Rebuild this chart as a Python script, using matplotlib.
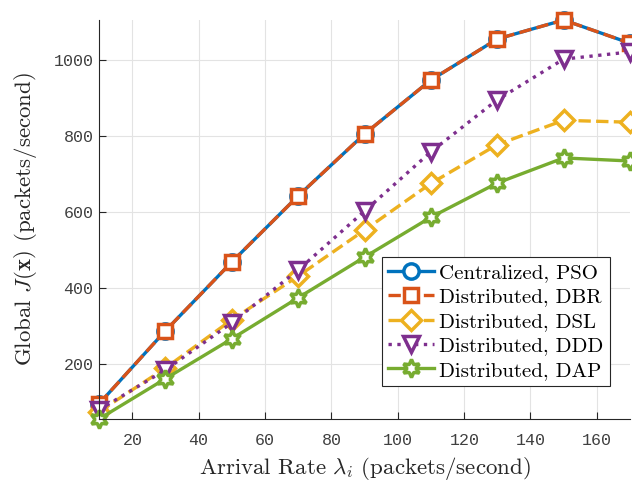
import matplotlib
matplotlib.use("Agg")
import matplotlib.pyplot as plt

plt.rcParams['mathtext.fontset'] = 'cm'
plt.rcParams['axes.formatter.use_mathtext'] = True

x = [10, 30, 50, 70, 90, 110, 130, 150, 170]
pso = [96, 288, 469, 643, 806, 948, 1056, 1106, 1045]
dbr = [96, 288, 469, 643, 806, 948, 1056, 1106, 1045]
dsl = [75, 190, 317, 432, 553, 676, 778, 842, 837]
ddd = [80, 185, 309, 448, 603, 759, 896, 1003, 1022]
dap = [56, 162, 267, 375, 482, 587, 677, 743, 735]

labels = ['Centralized, PSO', 'Distributed, DBR', 'Distributed, DSL',
          'Distributed, DDD', 'Distributed, DAP']
colors = ['#0072BD', '#D95319', '#EDB120', '#7E2F8E', '#77AC30']
styles = ['-', '--', '--', ':', '-']
markers = ['o', 's', 'D', 'v', (6, 1, 0)]
msizes = [11, 10, 10, 12, 13]

fig = plt.figure(figsize=(6.32, 4.83), dpi=100)
ax = fig.add_axes([99/632, (483-419)/483, (630-99)/632, (419-20)/483])

for y, lab, c, ls, m, ms in zip([pso, dbr, dsl, ddd, dap], labels, colors, styles, markers, msizes):
    ax.plot(x, y, linestyle=ls, color=c, marker=m, markersize=ms, markerfacecolor='white',
            markeredgecolor=c, markeredgewidth=2.5, linewidth=2.4, label=lab, clip_on=False)

ax.set_xlim(10, 170)
ax.set_ylim(56, 1106)
ax.set_xticks([20, 40, 60, 80, 100, 120, 140, 160])
ax.set_yticks([200, 400, 600, 800, 1000])
ax.grid(True, color='#e3e3e3', linewidth=0.8)
ax.set_axisbelow(True)
for s in ['top', 'right']:
    ax.spines[s].set_visible(False)
for s in ['left', 'bottom']:
    ax.spines[s].set_color('#262626')
    ax.spines[s].set_linewidth(0.8)
ax.tick_params(direction='in', length=5, width=0.8, colors='#262626', labelsize=12,
               labelcolor='#404040', labelfontfamily='Liberation Mono')
ax.tick_params(axis='x', pad=10)

ax.set_xlabel(r'Arrival Rate $\lambda_i$ (packets/second)', fontsize=16.5,
              color='#262626', fontfamily='cmr10', labelpad=5)
ax.set_ylabel(r'Global $J(\mathbf{x})$ (packets/second)', fontsize=16.5,
              color='#262626', fontfamily='cmr10', labelpad=10)

leg = ax.legend(loc='lower right', bbox_to_anchor=(0.962, 0.083),
                prop={'family': 'cmr10', 'size': 15},
                frameon=True, fancybox=False, edgecolor='#262626', framealpha=1,
                handlelength=2.2, borderpad=0.3, labelspacing=0.28, handletextpad=0.25,
                borderaxespad=0)
leg.get_frame().set_linewidth(0.8)

fig.savefig('out.png', dpi=100)
